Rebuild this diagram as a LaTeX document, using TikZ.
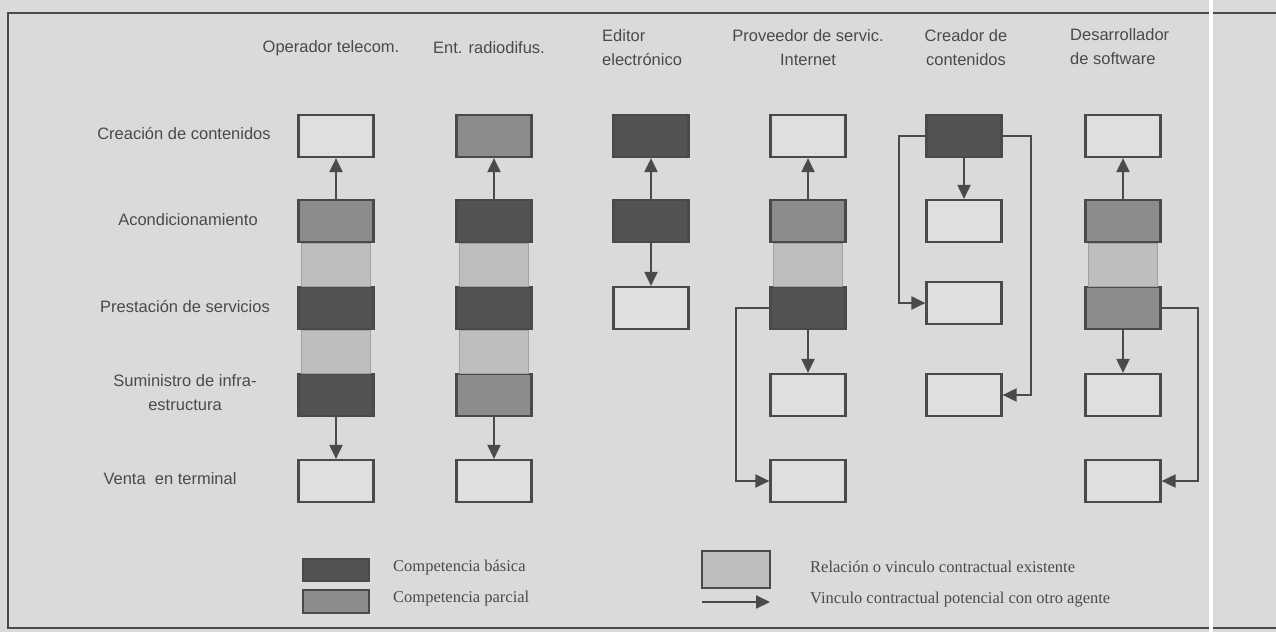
\documentclass[tikz,border=0pt]{standalone}
\usepackage{fontspec}
\setmainfont{Liberation Serif}
\newfontfamily\sansf{Liberation Sans}
\usetikzlibrary{arrows.meta,calc}

\definecolor{colPapel}{HTML}{DADADA}
\definecolor{colTinta}{HTML}{4A4A4A}
\definecolor{colBasica}{HTML}{535353}
\definecolor{colParcial}{HTML}{8C8C8C}
\definecolor{colVinculo}{HTML}{BEBEBE}
\definecolor{colVacio}{HTML}{DFDFDF}

\tikzset{
  cell/.style={draw=colTinta, line width=2.2pt, minimum width=75pt,
    minimum height=42pt, inner sep=0pt},
  compbas/.style={cell, fill=colBasica},
  comppar/.style={cell, fill=colParcial},
  vacio/.style={cell, fill=colVacio},
  arr/.style={colTinta, line width=2pt, -{Triangle[length=14pt,width=13pt]}},
  rowlab/.style={font=\sansf\fontsize{16.5}{24}\selectfont, text=colTinta,
    align=center, inner sep=0pt},
  leglab/.style={font=\fontsize{16.5}{20}\selectfont, text=colTinta, inner sep=0pt}
}

\begin{document}
\begin{tikzpicture}[x=1pt,y=-1pt]
  \useasboundingbox (0,0) rectangle (1276,632);
  \fill[colPapel] (0,0) rectangle (1276,632);
  \draw[colTinta,line width=2pt] (1276,13) -- (8,13) -- (8,628) -- (1276,628);

  % cabeceras
  \node[rowlab] (hop) at (331,48) {Operador telecom.};
  \node[rowlab] (hrd) at (489,48) {Ent. radiodifus.};
  \node[rowlab,align=left,anchor=west] (hed) at (602,48) {Editor\\electrónico};
  \node[rowlab] (hpi) at (808,48) {Proveedor de servic.\\Internet};
  \node[rowlab] (hcc) at (966,48) {Creador de\\contenidos};
  \node[rowlab,align=left,anchor=west] (hds) at (1070,47) {Desarrollador\\de software};

  % filas
  \node[rowlab] (fcre) at (184,134) {Creación de contenidos};
  \node[rowlab] (facd) at (188,220) {Acondicionamiento};
  \node[rowlab] (fpre) at (185,306) {Prestación de servicios};
  \node[rowlab] (fsum) at (185,393) {Suministro de infra-\\estructura};
  \node[rowlab] (fven) at (170,479) {Venta\ \ en terminal};

  % operador telecom.
  \node[vacio]   (op1) at (336,136) {};
  \node[comppar] (op2) at (336,221) {};
  \node[compbas] (op3) at (336,308) {};
  \node[compbas] (op4) at (336,395) {};
  \node[vacio]   (op5) at (336,481) {};
  % ent. radiodifus.
  \node[comppar] (rd1) at (494,136) {};
  \node[compbas] (rd2) at (494,221) {};
  \node[compbas] (rd3) at (494,308) {};
  \node[comppar] (rd4) at (494,395) {};
  \node[vacio]   (rd5) at (494,481) {};
  % editor electronico
  \node[compbas] (ed1) at (651,136) {};
  \node[compbas] (ed2) at (651,221) {};
  \node[vacio]   (ed3) at (651,308) {};
  % proveedor internet
  \node[vacio]   (pi1) at (808,136) {};
  \node[comppar] (pi2) at (808,221) {};
  \node[compbas] (pi3) at (808,308) {};
  \node[vacio]   (pi4) at (808,395) {};
  \node[vacio]   (pi5) at (808,481) {};
  % creador de contenidos
  \node[compbas] (cc1) at (964,136) {};
  \node[vacio]   (cc2) at (964,221) {};
  \node[vacio]   (cc3) at (964,303) {};
  \node[vacio]   (cc4) at (964,395) {};
  % desarrollador de software
  \node[vacio]   (ds1) at (1123,136) {};
  \node[comppar] (ds2) at (1123,221) {};
  \node[comppar] (ds3) at (1123,308) {};
  \node[vacio]   (ds4) at (1123,395) {};
  \node[vacio]   (ds5) at (1123,481) {};

  % vinculos existentes
  \foreach \a/\b in {op2/op3,op3/op4,rd2/rd3,rd3/rd4,pi2/pi3,ds2/ds3}
    \filldraw[fill=colVinculo,draw=colVinculo!85!black,line width=0.6pt]
      ($(\a.south west)+(4,0)$) rectangle ($(\b.north east)+(-4,0)$);

  % vinculos potenciales
  \draw[arr] (op2) -- (op1);
  \draw[arr] (op4) -- (op5);
  \draw[arr] (rd2) -- (rd1);
  \draw[arr] (rd4) -- (rd5);
  \draw[arr] (ed2) -- (ed1);
  \draw[arr] (ed2) -- (ed3);
  \draw[arr] (pi2) -- (pi1);
  \draw[arr] (pi3) -- (pi4);
  \draw[arr] (pi3.west) -- ++(-33,0) |- (pi5.west);
  \draw[arr] (cc1) -- (cc2);
  \draw[arr] (cc1.west) -- ++(-26,0) |- (cc3.west);
  \draw[arr] (cc1.east) -- ++(28,0) |- (cc4.east);
  \draw[arr] (ds2) -- (ds1);
  \draw[arr] (ds3) -- (ds4);
  \draw[arr] (ds3.east) -- ++(36,0) |- (ds5.east);

  % leyenda
  \node[compbas,minimum width=66pt,minimum height=22pt] (lbas) at (336,570) {};
  \node[comppar,minimum width=66pt,minimum height=23pt] (lpar) at (336,601.5) {};
  \node[cell,fill=colVinculo,minimum width=68pt,minimum height=37pt,
    line width=1.4pt] (lvin) at (736,569.5) {};
  \coordinate (lpa) at (702,602);
  \coordinate (lpb) at (770,602);
  \draw[arr] (lpa) -- (lpb);
  \node[leglab,anchor=base west] (tbas) at (393,571) {Competencia básica};
  \node[leglab,anchor=base west] (tpar) at (393,602) {Competencia parcial};
  \node[leglab,anchor=base west] (tvin) at (810,572) {Relación o vinculo contractual existente};
  \node[leglab,anchor=base west] (tpot) at (810,603) {Vinculo contractual potencial con otro agente};

  \fill[white] (1209,0) rectangle (1213,632);
\end{tikzpicture}
\end{document}
